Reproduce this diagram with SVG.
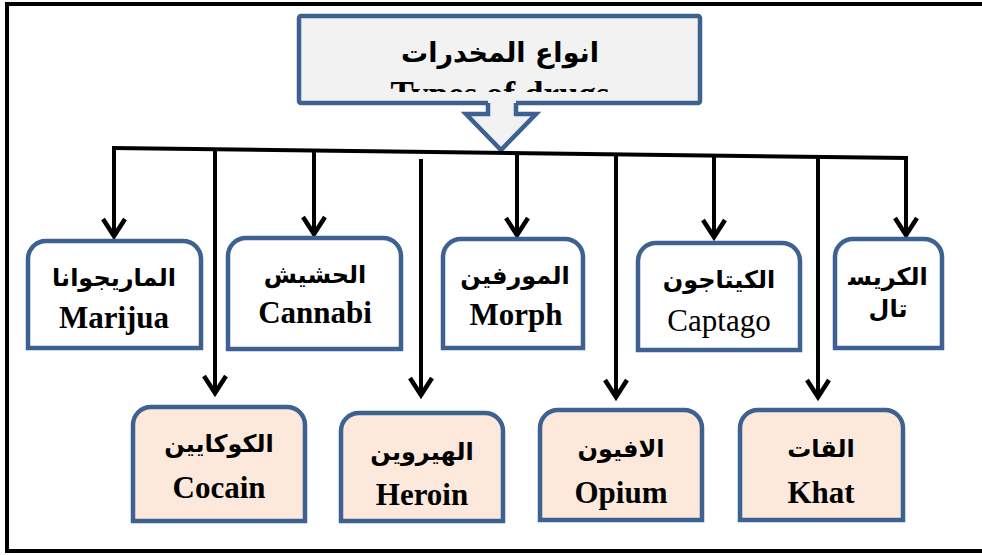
<svg xmlns="http://www.w3.org/2000/svg" width="982" height="555" viewBox="0 0 982 555">
<style>
.frame{stroke:#000;stroke-width:4;fill:none}
.box{stroke:#3d6190;stroke-width:4.5}
.top{fill:#fff}
.bot{fill:#fde9db}
.title{fill:#f2f2f2;stroke:#3d6190;stroke-width:4.5}
.ar{font-family:"DejaVu Sans",sans-serif;font-weight:bold;font-size:24px;text-anchor:middle;fill:#000}
.en{font-family:"Liberation Serif",serif;font-weight:bold;font-size:31px;text-anchor:middle;fill:#000}
.enr{font-family:"Liberation Serif",serif;font-size:31px;text-anchor:middle;fill:#000}
.con{stroke:#000;stroke-width:4;fill:none}
.arr{marker-end:url(#chev)}
</style>
<defs>
<marker id="chev" markerUnits="userSpaceOnUse" markerWidth="40" markerHeight="40" viewBox="-20 -20 40 40" refX="0" refY="0" orient="auto" overflow="visible">
<path d="M-17,-11 L0,0 L-17,11" fill="none" stroke="#000" stroke-width="4.5" stroke-linejoin="miter"/>
</marker>
<clipPath id="tclip"><rect x="300" y="17" width="398" height="75"/></clipPath>
</defs>
<rect width="982" height="555" fill="#fff"/>
<g id="frame">
<path class="frame" d="M7,553 L7,4 L982,4"/>
<path class="frame" d="M7,551 L982,551"/>
</g>
<g id="title">
<rect class="title" x="299" y="16" width="401" height="87" rx="2"/>
<path d="M488,100 L488,114 L466,114 L501,150 L536,114 L516,114 L516,100 Z" fill="#f2f2f2"/>
<path d="M488,103 L488,114 L466,114 L501,150 L536,114 L516,114 L516,103" fill="none" stroke="#3d6190" stroke-width="4.5" stroke-linejoin="miter"/>
<text class="ar" x="500" y="62" style="font-size:27px">انواع المخدرات</text>
<g clip-path="url(#tclip)"><text class="en" x="500" y="106" style="font-size:35px">Types of drugs</text></g>
</g>
<g id="connectors">
<path class="con" d="M112,148 L908,158"/>
<path class="con arr" d="M114,148 L114,236"/>
<path class="con arr" d="M215,149 L215,393"/>
<path class="con arr" d="M314,150 L314,234"/>
<path class="con arr" d="M421,159 L421,395"/>
<path class="con arr" d="M517,153 L517,235"/>
<path class="con arr" d="M616,154 L616,397"/>
<path class="con arr" d="M714,155 L714,237"/>
<path class="con arr" d="M818,157 L818,397"/>
<path class="con arr" d="M906,158 L906,235"/>
</g>
<g id="marijuana">
<path class="box top" d="M28,348 L28,259 A18,18 0 0 1 46,241 L183,241 A18,18 0 0 1 201,259 L201,348 Z"/>
<text class="ar" x="114" y="286">الماريجوانا</text>
<text class="en" x="114" y="328">Marijua</text>
</g>
<g id="cannabis">
<path class="box top" d="M228,349 L228,256 A18,18 0 0 1 246,238 L383,238 A18,18 0 0 1 401,256 L401,349 Z"/>
<text class="ar" x="315" y="283">الحشيش</text>
<text class="en" x="315" y="323">Cannabi</text>
</g>
<g id="morphine">
<path class="box top" d="M443,348 L443,257 A18,18 0 0 1 461,239 L565,239 A18,18 0 0 1 583,257 L583,348 Z"/>
<text class="ar" x="515" y="284">المورفين</text>
<text class="en" x="516" y="325">Morph</text>
</g>
<g id="captagon">
<path class="box top" d="M638,350 L638,261 A18,18 0 0 1 656,243 L782,243 A18,18 0 0 1 800,261 L800,350 Z"/>
<text class="ar" x="719" y="288">الكيتاجون</text>
<text class="enr" x="719" y="331">Captago</text>
</g>
<g id="crystal">
<path class="box top" d="M835,348 L835,257 A18,18 0 0 1 853,239 L924,239 A18,18 0 0 1 942,257 L942,348 Z"/>
<text class="ar" x="888" y="285">الكريس&#x200D;</text>
<text class="ar" x="888" y="317">تال</text>
</g>
<g id="cocaine">
<path class="box bot" d="M133,521 L133,425 A18,18 0 0 1 151,407 L287,407 A18,18 0 0 1 305,425 L305,521 Z"/>
<text class="ar" x="219" y="452">الكوكايين</text>
<text class="en" x="219" y="498">Cocain</text>
</g>
<g id="heroin">
<path class="box bot" d="M341,521 L341,431 A18,18 0 0 1 359,413 L485,413 A18,18 0 0 1 503,431 L503,521 Z"/>
<text class="ar" x="422" y="460">الهيروين</text>
<text class="en" x="422" y="505">Heroin</text>
</g>
<g id="opium">
<path class="box bot" d="M540,520 L540,428 A18,18 0 0 1 558,410 L684,410 A18,18 0 0 1 702,428 L702,520 Z"/>
<text class="ar" x="621" y="457">الافيون</text>
<text class="en" x="621" y="503">Opium</text>
</g>
<g id="khat">
<path class="box bot" d="M740,520 L740,428 A18,18 0 0 1 758,410 L885,410 A18,18 0 0 1 903,428 L903,520 Z"/>
<text class="ar" x="821" y="457">القات</text>
<text class="en" x="821" y="503">Khat</text>
</g>
</svg>
